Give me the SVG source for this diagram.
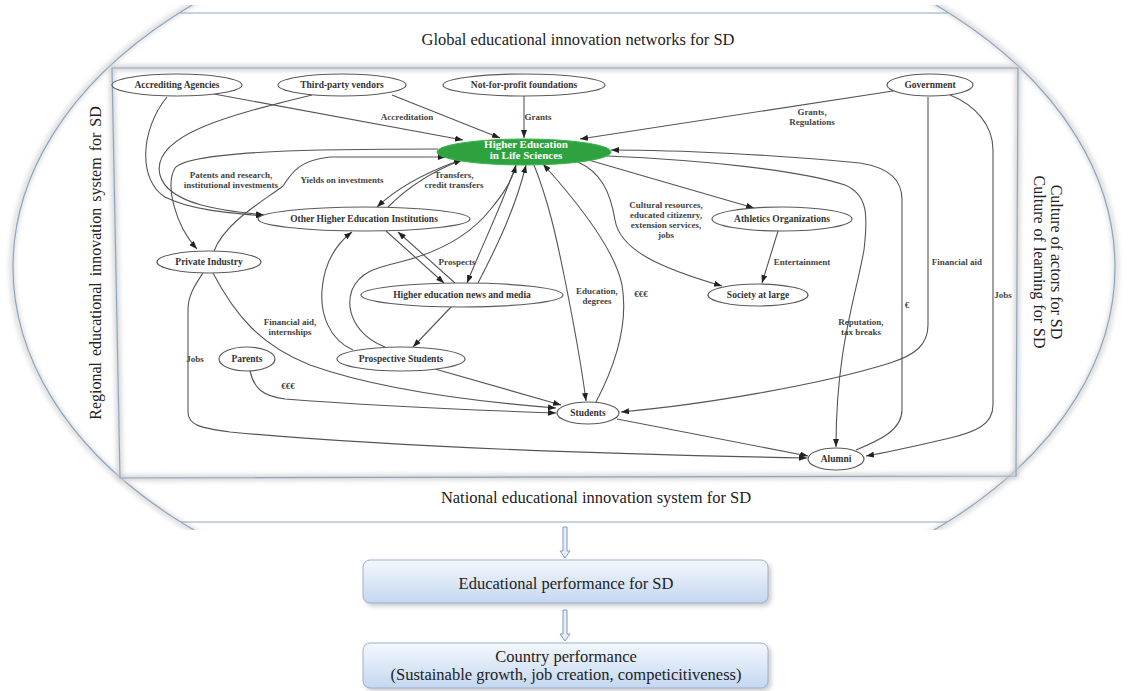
<svg xmlns="http://www.w3.org/2000/svg" width="1129" height="691" viewBox="0 0 1129 691">
<style>
.big{font-family:"Liberation Serif",serif;font-size:16.5px;fill:#222}
.nl{font-family:"Liberation Serif",serif;font-size:9.5px;font-weight:bold;fill:#333;text-anchor:middle}
.el{font-family:"Liberation Serif",serif;font-size:9px;font-weight:bold;fill:#444;text-anchor:middle}
.node{fill:#fff;stroke:#5a5a5a;stroke-width:1.2}
.edge{fill:none;stroke:#555;stroke-width:1.1}
.frame{fill:none;stroke:#8da6bf;stroke-width:1.2}
.hollow{fill:#e8eef7;stroke:#7f9cc0;stroke-width:1}
.box{fill:url(#bg);stroke:#9ab1d2;stroke-width:1}
</style>
<defs>
<marker id="ah" markerWidth="8" markerHeight="6" refX="8" refY="3" orient="auto" markerUnits="userSpaceOnUse">
<path d="M0,0 L8,3 L0,6 z" fill="#222"/>
</marker>
<clipPath id="band"><rect x="0" y="5" width="1129" height="525"/></clipPath>
<filter id="blur" x="-10%" y="-10%" width="120%" height="120%"><feGaussianBlur stdDeviation="2.5"/></filter>
<linearGradient id="bg" x1="0" y1="0" x2="0" y2="1">
<stop offset="0" stop-color="#f4f8fd"/><stop offset="1" stop-color="#c4d7f0"/>
</linearGradient>
</defs>
<rect width="1129" height="691" fill="#fff"/>

<g id="outer-frame">
<g clip-path="url(#band)">
<ellipse cx="564" cy="267" rx="552" ry="356" fill="none" stroke="#d8d8d8" stroke-width="5" filter="url(#blur)"/>
<ellipse cx="564" cy="267" rx="551" ry="355" class="frame"/>
</g>
<line x1="180" y1="13" x2="948" y2="13" stroke="#d0d0d0" stroke-width="4" filter="url(#blur)"/>
<line x1="180" y1="13" x2="948" y2="13" class="frame"/>
<line x1="181" y1="522" x2="947" y2="522" stroke="#d0d0d0" stroke-width="4" filter="url(#blur)"/>
<line x1="181" y1="522" x2="947" y2="522" class="frame"/>
<polygon points="112,68 1018,68 1016,476 120,478" fill="none" stroke="#cfcfcf" stroke-width="5" filter="url(#blur)"/>
<polygon points="112,68 1018,68 1016,476 120,478" fill="#fff" class="frame"/>
<text class="big" x="578" y="45" text-anchor="middle">Global educational innovation networks for SD</text>
<text class="big" x="596" y="503" text-anchor="middle">National educational innovation system for SD</text>
<text class="big" transform="translate(101,263) rotate(-90)" text-anchor="middle" word-spacing="2" style="font-size:16px">Regional educational innovation system for SD</text>
<text class="big" transform="translate(1051,262) rotate(90)" text-anchor="middle" style="font-size:16px">Culture of actors for SD</text>
<text class="big" transform="translate(1034,262) rotate(90)" text-anchor="middle" word-spacing="1" style="font-size:16px">Culture of learning  for SD</text>
</g>

<g id="connectors">
<path class="edge" marker-end="url(#ah)" d="M214,94 L463,140"/>
<path class="edge" marker-end="url(#ah)" d="M392,95 L500,138"/>
<path class="edge" marker-end="url(#ah)" d="M524,96 L524,138"/>
<path class="edge" marker-end="url(#ah)" d="M893,91 L580,139"/>
<path class="edge" marker-end="url(#ah)" d="M167,97 C140,130 138,180 165,197 C190,210 230,213 264,216"/>
<path class="edge" marker-end="url(#ah)" d="M312,95 C230,115 150,135 160,175 C168,205 225,211 264,215"/>
<path class="edge" marker-end="url(#ah)" d="M438,149 C330,149 190,150 175,168 C165,185 175,225 197,249"/>
<path class="edge" marker-end="url(#ah)" d="M214,251 C225,222 265,200 283,186 C292,172 300,160 330,157 L446,157"/>
<path class="edge" marker-end="url(#ah)" d="M455,162 C420,175 395,190 377,207"/>
<path class="edge" marker-end="url(#ah)" d="M388,207 C405,190 430,172 462,160"/>
<path class="edge" marker-end="url(#ah)" d="M386,231 L444,283"/>
<path class="edge" marker-end="url(#ah)" d="M455,283 L398,232"/>
<path class="edge" marker-end="url(#ah)" d="M516,165 C500,210 480,250 467,283"/>
<path class="edge" marker-end="url(#ah)" d="M478,283 C495,250 515,210 526,165"/>
<path class="edge" marker-end="url(#ah)" d="M385,347 C355,335 345,310 352,290 C360,272 375,268 400,262 C440,252 470,235 490,210 C505,192 512,180 516,165"/>
<path class="edge" marker-end="url(#ah)" d="M353,350 C330,340 320,315 322,290 C324,265 335,245 352,232"/>
<path class="edge" marker-end="url(#ah)" d="M452,306 L413,347"/>
<path class="edge" marker-end="url(#ah)" d="M435,369 L561,405"/>
<path class="edge" marker-end="url(#ah)" d="M250,371 C254,388 262,396 285,399 C360,405 470,410 556,413"/>
<path class="edge" marker-end="url(#ah)" d="M213,273 C235,315 260,345 310,365 C380,390 480,402 556,408"/>
<path class="edge" marker-end="url(#ah)" d="M203,273 C195,285 188,295 188,310 L188,412 C188,425 200,428 230,432 C400,448 650,455 807,458"/>
<path class="edge" marker-end="url(#ah)" d="M617,419 L808,456"/>
<path class="edge" marker-end="url(#ah)" d="M534,165 C548,200 556,235 565,280 C575,330 582,370 586,401"/>
<path class="edge" marker-end="url(#ah)" d="M596,402 C618,360 628,320 622,285 C615,250 580,205 543,164"/>
<path class="edge" marker-end="url(#ah)" d="M585,159 L754,208"/>
<path class="edge" marker-end="url(#ah)" d="M578,162 C600,172 610,190 615,220 C620,250 660,268 722,286"/>
<path class="edge" marker-end="url(#ah)" d="M778,231 L762,283"/>
<path class="edge" marker-end="url(#ah)" d="M856,450 C880,440 902,430 902,410 L902,200 C902,180 890,168 860,163 C780,155 680,150 611,150"/>
<path class="edge" marker-end="url(#ah)" d="M607,156 C700,160 800,170 845,185 C868,195 868,215 864,250 C855,300 836,350 836,447"/>
<path class="edge" marker-end="url(#ah)" d="M928,97 L928,325 C928,345 915,355 890,363 C820,385 700,405 621,412"/>
<path class="edge" marker-end="url(#ah)" d="M950,95 C975,105 993,125 993,150 L993,405 C993,425 975,432 950,438 C920,445 890,452 866,456"/>
<text class="el" x="407" y="120">Accreditation</text>
<text class="el" x="538" y="120">Grants</text>
<text class="el" x="812" y="115">Grants,</text>
<text class="el" x="812" y="125">Regulations</text>
<text class="el" x="231" y="178">Patents and research,</text>
<text class="el" x="231" y="188">institutional investments</text>
<text class="el" x="342" y="183">Yields on investments</text>
<text class="el" x="454" y="178">Transfers,</text>
<text class="el" x="454" y="188">credit transfers</text>
<text class="el" x="666" y="208">Cultural resources,</text>
<text class="el" x="666" y="218">educated citizenry,</text>
<text class="el" x="666" y="228">extension services,</text>
<text class="el" x="666" y="238">jobs</text>
<text class="el" x="457" y="265">Prospects</text>
<text class="el" x="802" y="265">Entertainment</text>
<text class="el" x="957" y="265">Financial aid</text>
<text class="el" x="597" y="294">Education,</text>
<text class="el" x="597" y="304">degrees</text>
<text class="el" x="641" y="297">€€€</text>
<text class="el" x="907" y="308">€</text>
<text class="el" x="861" y="325">Reputation,</text>
<text class="el" x="861" y="335">tax breaks</text>
<text class="el" x="1003" y="298">Jobs</text>
<text class="el" x="290" y="325">Financial aid,</text>
<text class="el" x="290" y="335">internships</text>
<text class="el" x="195" y="362">Jobs</text>
<text class="el" x="288" y="389">€€€</text>
</g>

<g id="n-accrediting"><ellipse class="node" cx="177" cy="85" rx="65" ry="11"/><text class="nl" x="177" y="88">Accrediting Agencies</text></g>
<g id="n-thirdparty"><ellipse class="node" cx="342" cy="85" rx="64" ry="11"/><text class="nl" x="342" y="88">Third-party vendors</text></g>
<g id="n-notforprofit"><ellipse class="node" cx="524" cy="85" rx="81" ry="11"/><text class="nl" x="524" y="88">Not-for-profit foundations</text></g>
<g id="n-government"><ellipse class="node" cx="930" cy="85" rx="43" ry="11"/><text class="nl" x="930" y="88">Government</text></g>
<g id="n-he"><ellipse cx="524" cy="152" rx="87" ry="13" fill="#2ea23e" stroke="#3bb54a" stroke-width="1"/><text class="nl" x="526" y="148" style="fill:#fff;font-size:11px">Higher Education</text><text class="nl" x="526" y="159" style="fill:#fff;font-size:11px">in Life Sciences</text></g>
<g id="n-otherhei"><ellipse class="node" cx="364" cy="219" rx="106" ry="12"/><text class="nl" x="364" y="222">Other Higher Education Institutions</text></g>
<g id="n-athletics"><ellipse class="node" cx="782" cy="219" rx="70" ry="12"/><text class="nl" x="782" y="222">Athletics Organizations</text></g>
<g id="n-private"><ellipse class="node" cx="209" cy="262" rx="52" ry="11"/><text class="nl" x="209" y="265">Private Industry</text></g>
<g id="n-news"><ellipse class="node" cx="462" cy="295" rx="101" ry="12"/><text class="nl" x="462" y="298">Higher education news and media</text></g>
<g id="n-society"><ellipse class="node" cx="758" cy="295" rx="50" ry="11"/><text class="nl" x="758" y="298">Society at large</text></g>
<g id="n-parents"><ellipse class="node" cx="247" cy="359" rx="28" ry="12"/><text class="nl" x="247" y="362">Parents</text></g>
<g id="n-prospective"><ellipse class="node" cx="401" cy="359" rx="64" ry="12"/><text class="nl" x="401" y="362">Prospective Students</text></g>
<g id="n-students"><ellipse class="node" cx="588" cy="413" rx="31" ry="11"/><text class="nl" x="588" y="416">Students</text></g>
<g id="n-alumni"><ellipse class="node" cx="836" cy="459" rx="28" ry="11"/><text class="nl" x="836" y="462">Alumni</text></g>

<g id="n-arrow1"><path class="hollow" d="M563,527 L567,527 L567,551 L570,551 L565,558 L560,551 L563,551 z"/></g>
<g id="n-edu-perf">
<rect x="366" y="563" width="405" height="43" rx="7" fill="#c8c8c8" filter="url(#blur)"/>
<rect class="box" x="363" y="560" width="405" height="43" rx="7"/>
<text class="big" x="566" y="589" text-anchor="middle">Educational performance for SD</text>
</g>
<g id="n-arrow2"><path class="hollow" d="M563,610 L567,610 L567,634 L570,634 L565,641 L560,634 L563,634 z"/></g>
<g id="n-country-perf">
<rect x="366" y="646" width="405" height="45" rx="7" fill="#c8c8c8" filter="url(#blur)"/>
<rect class="box" x="363" y="643" width="405" height="45" rx="7"/>
<text class="big" x="566" y="662" text-anchor="middle">Country performance</text>
<text class="big" x="566" y="680" text-anchor="middle">(Sustainable growth, job creation, competicitiveness)</text>
</g>
</svg>
